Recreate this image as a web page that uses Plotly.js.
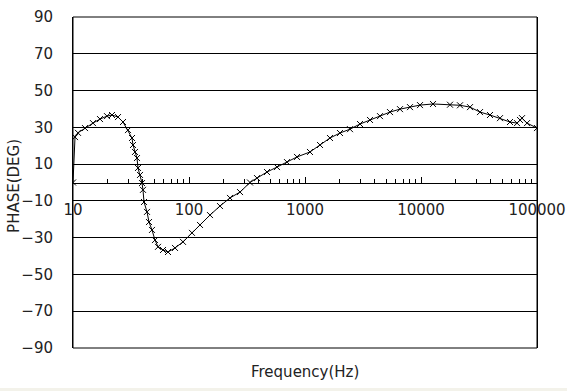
<!DOCTYPE html>
<html>
<head>
<meta charset="utf-8">
<script src="https://cdn.plot.ly/plotly-3.0.1.min.js"></script>
<style>html,body{margin:0;padding:0;background:#fff}</style>
</head>
<body>
<div id="chart" style="width:567px;height:391px"></div>
<script>
// Frequency (Hz) and phase (deg)
const frequency = [10, 10.41, 11.04, 12.69, 14.87, 17.09, 19.64, 21.69, 24.43, 26.98,
  29.79, 32.26, 32.91, 34.23, 35.62, 36.34, 37.81, 39.33, 40.12, 40.94,
  43.45, 45.21, 47.97, 50.93, 54.06, 59.69, 65.92, 75.73, 88.77, 106.1,
  124.4, 151.7, 185.0, 225.6, 275.3, 335.7, 385.8, 470.4, 573.7, 699.6,
  853.2, 1104, 1347, 1642, 2003, 2443, 2980, 3634, 4432, 5406,
  6592, 8040, 9804, 12690, 17783, 21690, 26450, 32260, 39330, 47970,
  58520, 67230, 71360, 74280, 82000, 100000];
const phase = [0, 24.7, 27, 29.6, 32.3, 34.5, 36.1, 36.7, 35.6, 32.9,
  28.5, 24.2, 20.4, 16.6, 13.3, 7.9, 4.1, -0.3, -4, -10.6,
  -16, -21.5, -25.8, -31.3, -35, -36.7, -37.8, -35.6, -32.3, -27.4,
  -23.1, -17.7, -12.8, -8.4, -5.2, 0, 2.4, 5.7, 8.4, 11.1,
  13.9, 16.6, 20.4, 24.2, 26.9, 29, 31.8, 34, 36.1, 38.3,
  39.9, 41, 42.1, 42.7, 42.3, 42, 41, 38.3, 36.7, 35,
  32.9, 32.3, 34, 35, 32.3, 29.6];

const yTicks = [-90, -70, -50, -30, -10, 10, 30, 50, 70, 90];
const xTickVals = [10, 100, 1000, 10000, 100000];
const xTickText = ["10", "100", "1000", "10000", "100000"];

const font = {family: "DejaVu Sans", size: 15, color: "#222"};

const trace = {
  x: frequency, y: phase, type: "scatter", mode: "lines+markers",
  line: {color: "#000", width: 1},
  marker: {symbol: "x-thin", size: 6, line: {color: "#000", width: 1}, color: "#000"},
  hoverinfo: "skip", showlegend: false
};

const layout = {
  width: 567, height: 391,
  margin: {l: 73, r: 30, t: 17, b: 43},
  paper_bgcolor: "#fff", plot_bgcolor: "#fff",
  font: font,
  xaxis: {
    type: "log", range: [1, 5],
    anchor: "free", position: 0.5,
    showline: true, linecolor: "#000", linewidth: 1,
    showgrid: false, zeroline: false,
    tickmode: "array", tickvals: xTickVals, ticktext: xTickText,
    ticks: "inside", ticklen: 6, tickcolor: "#000", tickwidth: 1,
    ticklabelstandoff: 13,
    minor: {ticks: "inside", ticklen: 4, tickcolor: "#000", dtick: "D1", showgrid: false},
    tickfont: font
  },
  yaxis: {
    range: [-90, 90],
    tickmode: "array", tickvals: yTicks,
    showgrid: true, gridcolor: "#000", gridwidth: 1,
    zeroline: false,
    showline: true, linecolor: "#000", linewidth: 1, mirror: true,
    ticks: "", ticklabelstandoff: 16,
    tickfont: font
  },
  annotations: [{
    text: "Frequency(Hz)", xref: "paper", yref: "paper",
    x: 0.5, y: -0.072, xanchor: "center", yanchor: "middle",
    showarrow: false, font: font
  }, {
    text: "PHASE(DEG)", xref: "paper", yref: "paper",
    x: -0.127, y: 0.49, xanchor: "center", yanchor: "middle",
    textangle: -90, showarrow: false, font: font
  }],
  shapes: [
    {type: "rect", xref: "paper", yref: "paper", x0: 0, x1: 1, y0: 0, y1: 1,
     line: {color: "#000", width: 1}, fillcolor: "rgba(0,0,0,0)", layer: "above"},
    {type: "rect", xref: "paper", yref: "paper", x0: -0.2, x1: 1.1, y0: -0.25, y1: -0.121,
     line: {width: 0}, fillcolor: "#f3f2ea", layer: "below"}
  ]
};

Plotly.newPlot("chart", [trace], layout, {displayModeBar: false, staticPlot: true});
</script>
</body>
</html>
